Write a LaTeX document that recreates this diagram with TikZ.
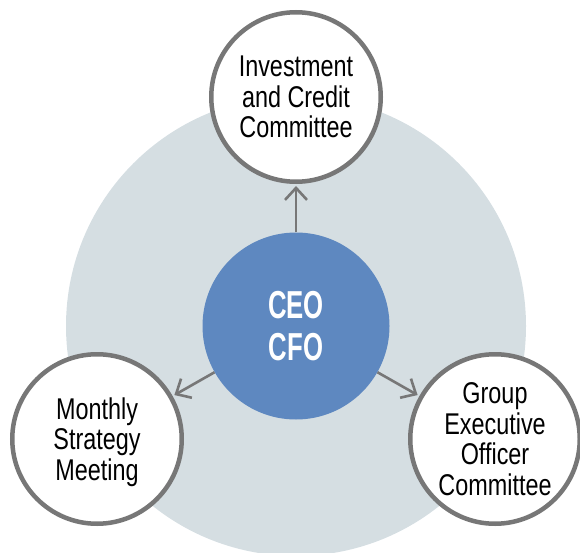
\documentclass[tikz,border=0pt]{standalone}
\usepackage{fontspec}
\setmainfont{Liberation Sans}[FakeStretch=0.78]
\newfontfamily\hubfont{Liberation Sans}[FakeStretch=0.66]
\usetikzlibrary{arrows.meta}
\definecolor{fieldgray}{HTML}{D5DEE2}
\definecolor{hubblue}{HTML}{5E88C0}
\definecolor{rimgray}{HTML}{777777}
\begin{document}
\begin{tikzpicture}[x=1pt,y=-1pt,
  field/.style={circle, fill=fieldgray, minimum size=460pt, inner sep=0pt},
  satellite/.style={circle, draw=rimgray, line width=4.5pt, fill=white,
    minimum size=169.5pt, inner sep=0pt, align=center,
    font=\fontsize{30}{30.5}\selectfont},
  hub/.style={circle, fill=hubblue, minimum size=187pt, inner sep=0pt,
    align=center, text=white, font=\hubfont\bfseries\fontsize{39}{42}\selectfont},
  link/.style={draw=rimgray, line width=2.6pt,
    -{Straight Barb[length=12pt,width=22pt]}, shorten >=2pt}]
  \useasboundingbox (0,0) rectangle (580,553);

  % background disc behind the whole cycle
  \node[field] (back) at (296,326) {};

  % centre and the three committees
  \node[hub] (hub) at (296,326) {CEO\\CFO};
  \node[satellite] (icc) at (296,97) {Investment\\and Credit\\Committee};
  \node[satellite] (msm) at (97,439) {Monthly\\Strategy\\\raisebox{0pt}[\height][0pt]{Meeting}};
  \node[satellite] (geoc) at (495,439) {Group\\Executive\\Officer\\Committee};

  % connectors from the centre outwards
  \draw[link] (hub) -- (icc);
  \draw[link] (hub) -- (msm);
  \draw[link] (hub) -- (geoc);
\end{tikzpicture}
\end{document}
